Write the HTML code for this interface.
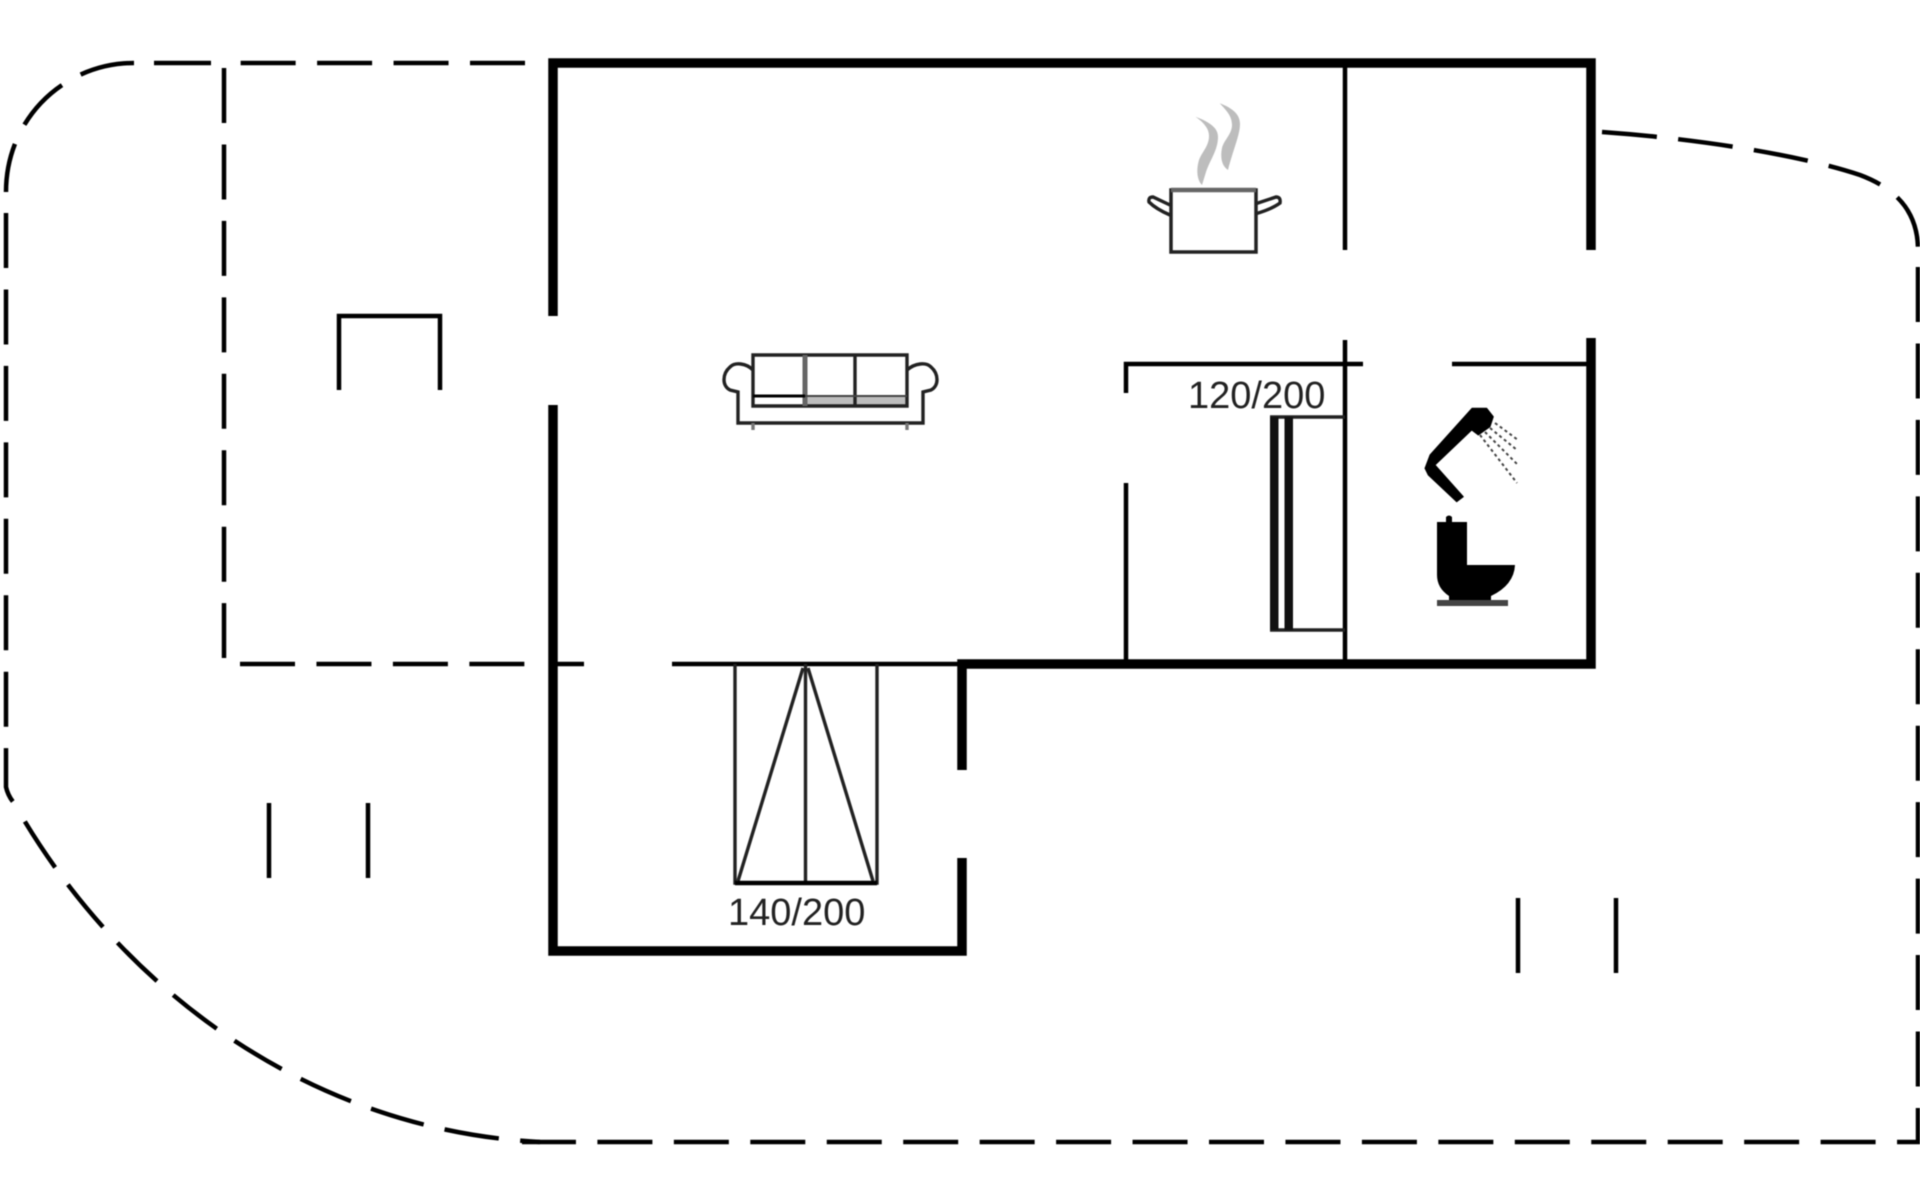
<!DOCTYPE html>
<html><head><meta charset="utf-8"><style>
html,body{margin:0;padding:0;background:#fff;width:1920px;height:1200px;overflow:hidden}
svg{display:block;filter:blur(.6px)}
text{font-family:"Liberation Sans",sans-serif;font-size:38px;fill:#222}
.d{fill:none;stroke:#000;stroke-width:4.5;stroke-dasharray:55 21.45}
.t{fill:none;stroke:#000;stroke-width:9.5;stroke-linejoin:miter}
.m{fill:none;stroke:#000;stroke-width:4.5}
.g{fill:none;stroke:#222;stroke-width:3.4}
</style></head><body>
<svg width="1920" height="1200" viewBox="0 0 1920 1200" xmlns="http://www.w3.org/2000/svg">
<!-- dashed outlines -->
<path class="d" d="M525 63H240"/>
<path class="d" d="M211 63H154" style="stroke-dasharray:none"/>
<path class="d" d="M134 63C65 63 6 118 6 192"/>
<path class="d" d="M6 213V787Q8 796 14 803"/>
<path class="d" style="stroke-dashoffset:-21.45" d="M14 803C120 990 310 1130 540 1142"/>
<path class="d" d="M224 68V658"/>
<path class="d" d="M240 664H525"/>
<path class="d" d="M1602 132C1700 139 1800 155 1860 175C1900 190 1918 215 1918 250"/>
<path class="d" d="M1918 267V1142H522"/>
<!-- thick walls -->
<path class="t" d="M553 316V63H1591V250"/>
<path class="t" d="M553 405V951H962V858"/>
<path class="t" d="M962 770V664H1591V338"/>
<!-- thin walls -->
<path class="m" d="M1345 63V250M1345 340V664"/>
<path class="m" d="M1126 393V364H1363M1126 483V664M1452 364H1591"/>
<path class="m" d="M553 664H584M672 664H958"/>
<path class="m" d="M339 390V316H440V390"/>
<path class="m" d="M269 803V878M368 803V878M1518 898V973M1616 898V973" stroke-width="4"/>
<!-- bed 140/200 -->
<path class="g" d="M735 664V883H877V664M805.500 664V883"/>
<path class="g" d="M738 881L803 668M808 668L873 881"/>
<path class="m" d="M735 883H877" stroke-width="3.500"/>
<text x="728" y="925">140/200</text>
<!-- bed 120/200 -->
<path class="g" d="M1270 417H1345M1270 630H1345"/>
<rect x="1270" y="417" width="8.500" height="213" fill="#111"/>
<rect x="1284.500" y="417" width="8.500" height="213" fill="#111"/>
<text x="1188" y="408">120/200</text>
<!-- sofa -->
<rect x="805" y="396" width="102" height="10" fill="#bdbdbd"/>
<path class="g" d="M753 355H907V406H753ZM855 355V406"/>
<path d="M805 355V406" stroke="#666" stroke-width="5" fill="none"/>
<path d="M753 396H805" stroke="#000" stroke-width="3" fill="none"/>
<path d="M805 396H907" stroke="#444" stroke-width="2" fill="none"/>
<path class="g" d="M753 370C746 363 735 362 730 367C722 374 722 386 730 390L738 392V423H923V392L931 390C939 386 939 374 931 367C926 362 915 363 907 370"/>
<path class="g" d="M753 423V430M907 423V430" style="stroke:#777"/>
<!-- pot -->
<path d="M1171 190H1256V252H1171Z" fill="none" stroke="#222" stroke-width="3.500"/>
<path d="M1171 190H1256" stroke="#666" stroke-width="4.500"/>
<path class="g" d="M1170 205L1153 197Q1148 197 1149 202Q1156 209 1170 215M1255 204L1276 197Q1281 197 1280 203Q1272 209 1255 214"/>
<path d="M1195.500 116.700C1210 122 1218 128 1218 137C1218 150 1210 160 1206 172L1202 185C1197 180 1196 170 1199 160C1202 152 1209 146 1209 136C1209 128 1203 122 1195.500 116.700Z" fill="#bdbdbd"/>
<path d="M1219.700 103.300C1232 108 1240 114 1240 124C1240 135 1233 150 1228 170C1222 166 1220 158 1222 148C1224 140 1232 134 1232 125C1232 116 1226 110 1219.700 103.300Z" fill="#bdbdbd"/>
<!-- shower -->
<path d="M1472 408.300H1486.700L1493.300 416.700L1490 426.700L1478.300 435L1471.700 430L1435 465L1463.300 496.700L1456.700 501.700L1428.300 475L1425 468.300L1430 455Z" fill="#000" stroke="#000" stroke-linejoin="round"/>
<path d="M1495 423L1518 440M1490 428L1517 450M1485 432L1518 465M1480 435L1517 483" fill="none" stroke="#444" stroke-width="2" stroke-dasharray="3 3"/>
<!-- toilet -->
<path d="M1437 522H1446V517Q1449 514 1452 517V522H1467V565H1515Q1514 585 1491 596V600H1449V596Q1437 588 1437 575Z" fill="#000"/>
<rect x="1437" y="600" width="71" height="6" fill="#444"/>
</svg>
</body></html>
